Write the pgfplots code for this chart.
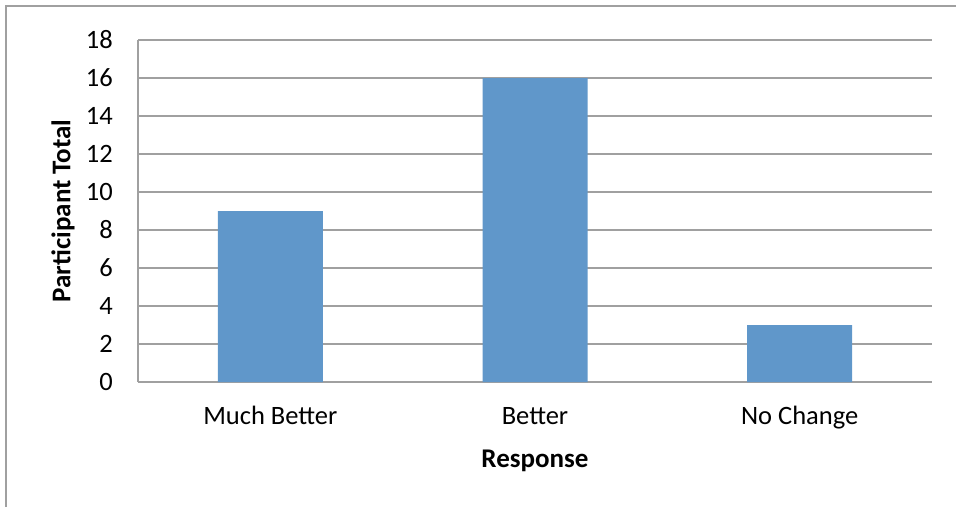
\documentclass[border=0pt]{standalone}
\usepackage{fontspec}
\setmainfont{Carlito}
\usepackage{pgfplots}
\pgfplotsset{compat=1.18}
\definecolor{barblue}{RGB}{96,151,202}
\definecolor{gridgray}{RGB}{160,160,160}
\begin{document}
\begin{tikzpicture}
\useasboundingbox (0pt,0pt) rectangle (956pt,507pt);
\draw[gridgray, line width=2pt] (6pt,0pt) -- (6pt,501pt) -- (956pt,501pt);
\begin{axis}[
  at={(138pt,125pt)}, anchor=south west,
  scale only axis, width=794pt, height=342pt,
  xmin=-0.5, xmax=2.5, ymin=0, ymax=18,
  ytick={0,2,...,18},
  xtick=data,
  xticklabels={Much Better,Better,No Change},
  axis lines*=left,
  axis line style={gridgray, line width=2pt},
  ymajorgrids, grid style={gridgray, line width=2pt},
  major tick length=0pt,
  /pgf/number format/assume math mode=true,
  tick label style={font=\fontsize{26.5}{31}\selectfont},
  yticklabel style={anchor=east, inner sep=0pt, xshift=-25pt},
  xticklabel style={anchor=base, inner sep=0pt, yshift=-42pt},
  xlabel={\textbf{Response}},
  ylabel={\textbf{Participant Total}},
  label style={font=\fontsize{27}{32}\selectfont},
  xlabel style={at={(axis description cs:0.5,-0.231)}, anchor=center},
  ylabel style={at={(axis description cs:-0.0945,0.5)}, anchor=center},
  clip=false,
]
\addplot[ybar, bar width=105pt, fill=barblue, draw=none] coordinates {(0,9) (1,16) (2,3)};
\end{axis}
\end{tikzpicture}
\end{document}
